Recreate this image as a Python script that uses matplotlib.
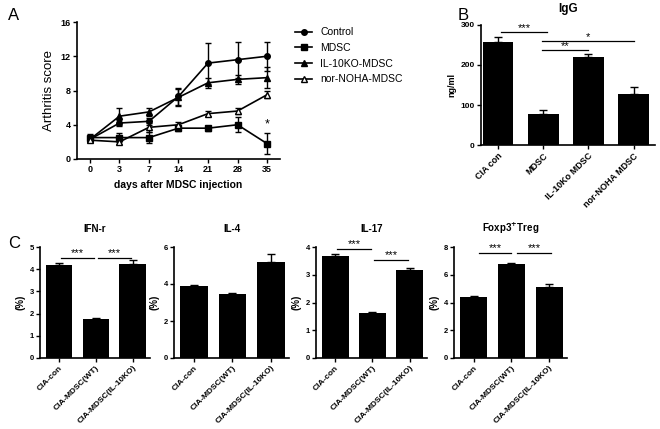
import matplotlib
matplotlib.use("Agg")
import matplotlib.pyplot as plt
from matplotlib.lines import Line2D
import numpy as np

plt.rcParams['font.family'] = ['Liberation Sans', 'DejaVu Sans']

# ---------------- data ----------------
days = ["0", "3", "7", "14", "21", "28", "35"]
control = [2.3, 4.2, 4.4, 7.3, 11.2, 11.6, 12.0]
control_err = [0.3, 0.4, 0.4, 1.0, 2.4, 2.1, 1.7]
mdsc = [2.5, 2.5, 2.5, 3.6, 3.6, 4.0, 1.8]
mdsc_err = [0.4, 0.5, 0.6, 0.3, 0.3, 0.9, 1.2]
il10ko = [2.3, 5.0, 5.5, 7.2, 8.9, 9.3, 9.5]
il10ko_err = [0.3, 1.0, 0.5, 1.0, 0.6, 0.5, 1.2]
nornoha = [2.2, 2.0, 3.7, 4.0, 5.3, 5.6, 7.5]
nornoha_err = [0.2, 0.3, 0.5, 0.3, 0.3, 0.4, 0.4]

igg_groups = ["CIA con", "MDSC", "IL-10Ko MDSC", "nor-NOHA MDSC"]
igg_vals = [257, 77, 219, 127]
igg_err = [14, 10, 8, 19]

c_groups = ["CIA-con", "CIA-MDSC(WT)", "CIA-MDSC(IL-10KO)"]
ifn_vals = [4.2, 1.75, 4.25]
ifn_err = [0.08, 0.05, 0.15]
il4_vals = [3.9, 3.45, 5.2]
il4_err = [0.05, 0.08, 0.4]
il17_vals = [3.68, 1.62, 3.18]
il17_err = [0.06, 0.05, 0.07]
foxp3_vals = [4.4, 6.8, 5.15]
foxp3_err = [0.1, 0.08, 0.18]

W, H = 660, 429
fig = plt.figure(figsize=(W / 100, H / 100), dpi=100)


def px_axes(left, top, right, bottom):
    return fig.add_axes([left / W, 1 - bottom / H, (right - left) / W, (bottom - top) / H])


def style(ax, lw=1.2):
    for s in ['top', 'right']:
        ax.spines[s].set_visible(False)
    for s in ['left', 'bottom']:
        ax.spines[s].set_linewidth(lw)
    ax.tick_params(direction='out', length=3, width=1.0, pad=1.5)


# ---------------- Panel A ----------------
axA = px_axes(77, 22, 280, 159)
x = np.arange(len(days))
common = dict(color='black', lw=1.2, capsize=2.5, elinewidth=1.0, capthick=1.0)
series = [
    (control, control_err, 'o', 4, 'black', 'Control'),
    (mdsc, mdsc_err, 's', 4.5, 'black', 'MDSC'),
    (il10ko, il10ko_err, '^', 4.5, 'black', 'IL-10KO-MDSC'),
    (nornoha, nornoha_err, '^', 5, 'white', 'nor-NOHA-MDSC'),
]
handles = []
for vals, err, mk, ms, mfc, lab in series:
    axA.errorbar(x, vals, yerr=err, marker=mk, ms=ms, mfc=mfc, mew=1.0, **common)
    handles.append(Line2D([], [], color='black', lw=1.2, marker=mk, ms=ms, mfc=mfc, mew=1.0, label=lab))
axA.set_xlim(-0.44, 6.44)
axA.set_ylim(0, 16)
axA.set_yticks([0, 4, 8, 12, 16])
axA.set_xticks(x)
axA.set_xticklabels(days)
style(axA)
for lab in axA.get_xticklabels() + axA.get_yticklabels():
    lab.set_fontsize(6.5)
    lab.set_fontweight('bold')
axA.set_xlabel("days after MDSC injection", fontsize=7.5, fontweight='bold', labelpad=4)
axA.set_ylabel("Arthritis score", fontsize=9.5, labelpad=4)
axA.text(6, 4.0, "*", ha='center', va='center', fontsize=9)
axA.legend(handles=handles, loc='upper left', bbox_to_anchor=(290 / W, 1 - 22 / H),
           bbox_transform=fig.transFigure, frameon=False, fontsize=7.5, handlelength=1.6,
           handletextpad=0.8, labelspacing=0.55, borderpad=0)
fig.text(8 / W, 1 - 16 / H, "A", fontsize=12, va='center')

# ---------------- Panel B ----------------
axB = px_axes(481, 25, 655, 145)
xb = np.arange(len(igg_groups))
axB.bar(xb, igg_vals, width=0.68, color='black')
axB.errorbar(xb, igg_vals, yerr=[np.zeros(len(igg_err)), igg_err], fmt='none', ecolor='black',
             elinewidth=1.0, capsize=3, capthick=1.0)
axB.set_xlim(-0.375, 3.47)
axB.set_ylim(0, 300)
axB.set_yticks([0, 100, 200, 300])
axB.set_xticks(xb)
axB.set_xticklabels(igg_groups, rotation=45, ha='right', rotation_mode='anchor')
style(axB)
for lab in axB.get_xticklabels():
    lab.set_fontsize(6.5)
    lab.set_fontweight('bold')
for lab in axB.get_yticklabels():
    lab.set_fontsize(6)
    lab.set_fontweight('bold')
axB.set_ylabel("ng/ml", fontsize=6.5, fontweight='bold', labelpad=3)
axB.set_title("IgG", fontsize=8.5, fontweight='bold', pad=9)


def sig(ax, x0, x1, y, txt, dy):
    ax.plot([x0, x1], [y, y], color='black', lw=0.9, clip_on=False)
    ax.text((x0 + x1) / 2, y + dy, txt, ha='center', va='bottom', fontsize=8, clip_on=False)


sig(axB, 0.07, 1.08, 282, "***", -3)
sig(axB, 0.97, 3.0, 261, "*", -3)
sig(axB, 0.97, 2.0, 237, "**", -3)
fig.text(458 / W, 1 - 16 / H, "B", fontsize=12, va='center')

# ---------------- Panel C ----------------
c_specs = [
    ("IFN-r", 40, 150, ifn_vals, ifn_err, 5, [0, 1, 2, 3, 4, 5]),
    ("IL-4", 174, 289, il4_vals, il4_err, 6, [0, 2, 4, 6]),
    ("IL-17", 316, 427, il17_vals, il17_err, 4, [0, 1, 2, 3, 4]),
    ("Foxp3$^{\\mathbf{+}}$Treg", 454, 567, foxp3_vals, foxp3_err, 8, [0, 2, 4, 6, 8]),
]
xc = np.arange(len(c_groups))
axes_c = []
for title, l, r, vals, err, ymax, yt in c_specs:
    ax = px_axes(l, 247, r, 358)
    ax.bar(xc, vals, width=0.72, color='black')
    ax.errorbar(xc, vals, yerr=[np.zeros(len(err)), err], fmt='none', ecolor='black',
                elinewidth=1.0, capsize=3, capthick=1.0)
    ax.set_xlim(-0.52, 2.47)
    ax.set_ylim(0, ymax)
    ax.set_yticks(yt)
    ax.set_xticks(xc)
    ax.set_xticklabels(c_groups, rotation=45, ha='right', rotation_mode='anchor')
    style(ax)
    for lab in ax.get_xticklabels():
        lab.set_fontsize(6)
        lab.set_fontweight('bold')
    for lab in ax.get_yticklabels():
        lab.set_fontsize(5.5)
        lab.set_fontweight('bold')
    ax.set_ylabel("(%)", fontsize=7, fontweight='bold', labelpad=3)
    ax.set_title(title, fontsize=7, fontweight='bold', pad=11)
    axes_c.append(ax)

sig(axes_c[0], 0.05, 0.95, 4.5, "***", 0.0)
sig(axes_c[0], 1.05, 1.95, 4.5, "***", 0.0)
sig(axes_c[2], 0.05, 0.95, 3.93, "***", 0.0)
sig(axes_c[2], 1.05, 1.95, 3.53, "***", 0.0)
sig(axes_c[3], 0.15, 1.0, 7.55, "***", 0.0)
sig(axes_c[3], 1.15, 2.05, 7.55, "***", 0.0)
fig.text(8 / W, 1 - 243 / H, "C", fontsize=12, va='center')

fig.savefig("out.png", dpi=100)
